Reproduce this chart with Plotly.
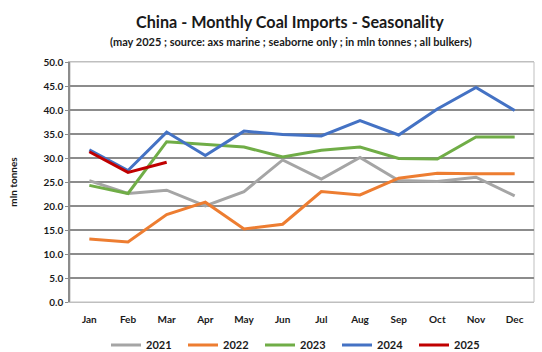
import plotly.graph_objects as go

months = ["Jan", "Feb", "Mar", "Apr", "May", "Jun", "Jul", "Aug", "Sep", "Oct", "Nov", "Dec"]
y2021 = [25.3, 22.6, 23.3, 20.0, 23.0, 29.6, 25.6, 30.1, 25.3, 25.1, 26.0, 22.1]
y2022 = [13.1, 12.5, 18.2, 20.8, 15.2, 16.2, 23.0, 22.3, 25.8, 26.8, 26.7, 26.7]
y2023 = [24.3, 22.6, 33.4, 32.9, 32.3, 30.2, 31.6, 32.3, 29.9, 29.8, 34.4, 34.4]
y2024 = [31.7, 27.4, 35.4, 30.5, 35.6, 34.9, 34.6, 37.8, 34.8, 40.2, 44.7, 39.9]
y2025 = [31.3, 27.0, 29.1]

series = [
    ("2021", y2021, "#A5A5A5"),
    ("2022", y2022, "#ED7D31"),
    ("2023", y2023, "#70AD47"),
    ("2024", y2024, "#4472C4"),
    ("2025", y2025, "#C00000"),
]

fig = go.Figure()
for name, vals, color in series:
    fig.add_trace(go.Scatter(
        x=months[:len(vals)], y=vals, name=name, mode="lines",
        line=dict(color=color, width=3),
    ))

font_family = "Lato, 'Open Sans', sans-serif"
W, H = 542, 352
L, R, T, B = 70, 8, 62, 50
pw = W - L - R
ph = H - T - B

fig.update_layout(
    width=W, height=H,
    margin=dict(l=L, r=R, t=T, b=B, autoexpand=False),
    paper_bgcolor="white", plot_bgcolor="white",
    font=dict(family=font_family, color="#1a1a1a"),
    showlegend=True,
    legend=dict(
        orientation="h", xref="container", yref="container",
        x=106 / W, xanchor="left", y=(H - 345) / H, yanchor="middle",
        font=dict(size=11, family=font_family, weight="bold"),
        entrywidth=32, entrywidthmode="pixels",
        itemwidth=30, bgcolor="rgba(0,0,0,0)",
    ),
    annotations=[
        dict(text="<b>China - Monthly Coal Imports - Seasonality</b>",
             x=(290 - L) / pw, y=(H - B - 22) / ph, xref="paper", yref="paper",
             xanchor="center", yanchor="middle", showarrow=False, font=dict(size=16.2)),
        dict(text="<b>(may 2025 ; source: axs marine ; seaborne only ; in mln tonnes ; all bulkers)</b>",
             x=(291 - L) / pw, y=(H - B - 41) / ph, xref="paper", yref="paper",
             xanchor="center", yanchor="middle", showarrow=False, font=dict(size=11)),
    ],
)

fig.update_xaxes(
    type="category", categoryorder="array", categoryarray=months,
    range=[-0.5, 11.5],
    showgrid=False, showline=True, linecolor="#BFBFBF", linewidth=1, mirror=True,
    ticks="", tickfont=dict(size=10, family=font_family, weight="bold"),
    ticklabelstandoff=8,
)
fig.update_yaxes(
    range=[0, 50], dtick=5, tickformat=".1f",
    showgrid=True, gridcolor="#8C8C8C", gridwidth=1.5,
    showline=True, linecolor="#8C8C8C", linewidth=1.5,
    ticks="outside", ticklen=3, tickcolor="#8C8C8C",
    tickfont=dict(size=10, family=font_family, weight="bold"),
    title=dict(text="<b>mln tonnes</b>", font=dict(size=10, family=font_family), standoff=24),
    zeroline=False,
)
fig.add_shape(type="rect", xref="paper", yref="paper", x0=0, x1=1, y0=0, y1=1,
              line=dict(color="#BFBFBF", width=1), layer="below")

fig.write_html("out.html")
